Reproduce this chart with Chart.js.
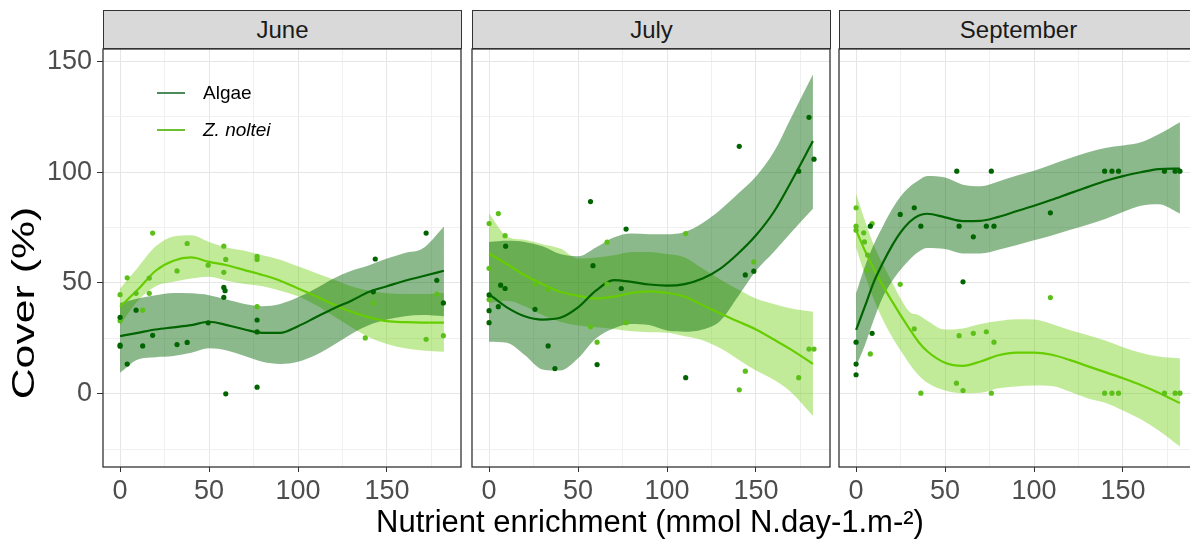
<!DOCTYPE html>
<html lang="en">
<head>
  <meta charset="UTF-8">
  <title>Cover vs nutrient enrichment</title>
  <script src="https://cdn.jsdelivr.net/npm/chart.js"></script>
  <style>
    body {
      margin: 0;
      background: #fff;
      font-family: "Liberation Sans", Arial, sans-serif;
    }

    #wrap {
      position: relative;
      width: 1190px;
      height: 541px;
      overflow: hidden;
    }

    canvas {
      position: absolute;
    }

    .strip {
      position: absolute;
      top: 10px;
      width: 359px;
      height: 39px;
      box-sizing: border-box;
      background: #d9d9d9;
      border: 1px solid #333;
      color: #1a1a1a;
      font-size: 24px;
      line-height: 37px;
      text-align: center;
    }

    #legend {
      position: absolute;
      left: 157px;
      top: 80px;
      font-size: 19px;
      color: #000;
    }

    .key {
      position: relative;
      height: 37px;
      line-height: 26px;
      padding-left: 46px;
    }

    .key span {
      position: absolute;
      left: 0;
      top: 12px;
      width: 28px;
      height: 2px;
    }

    #xtitle {
      position: absolute;
      left: 150px;
      width: 1000px;
      top: 503px;
      text-align: center;
      font-size: 31px;
      line-height: 38px;
      color: #000;
    }

    #ytitle {
      position: absolute;
      left: -126px;
      top: 284px;
      width: 300px;
      text-align: center;
      font-size: 31px;
      line-height: 38px;
      color: #000;
      transform: rotate(-90deg) scaleX(1.38);
    }
  </style>
</head>
<body>

<div id="wrap">
  <div class="strip" style="left:103px">June</div>
  <div class="strip" style="left:472px">July</div>
  <div class="strip" style="left:839px">September</div>

  <canvas id="june" width="462" height="468" style="left:0; top:44px"></canvas>
  <canvas id="july" width="364" height="468" style="left:467px; top:44px"></canvas>
  <canvas id="september" width="364" height="468" style="left:834px; top:44px"></canvas>

  <div id="legend">
    <div class="key"><span style="background:#4b8b5b"></span>Algae</div>
    <div class="key"><span style="background:#6cc22e"></span><i>Z. noltei</i></div>
  </div>

  <div id="xtitle">Nutrient enrichment (mmol N.day-1.m-²)</div>
  <div id="ytitle">Cover (%)</div>
</div>

<script>
  // ---- June ----
  const juneAlgaeX = [0, 0, 0, 4, 9, 12.7, 18.3, 32, 37.7, 49.5, 58.3, 59, 58.3, 59.4, 77, 77, 77, 143.4, 142.3, 172, 178, 181.7];
  const juneAlgaeY = [34.5, 22, 21.5, 13.4, 37.7, 21.6, 26.4, 22.2, 23.2, 32, 48, 46.5, 43.5, 0, 33.3, 27.9, 3, 60.8, 46, 72.5, 51.2, 41];
  const juneZosX = [0, 0, 4, 9, 12.7, 16.4, 16.4, 18.3, 32, 37.7, 49.5, 58.3, 59.4, 58.3, 77, 77, 77, 137.8, 142.3, 172, 178, 181.7];
  const juneZosY = [44.7, 33, 52.3, 45.3, 37.7, 52.2, 45.3, 72.5, 55.4, 67.8, 58, 66.6, 60.6, 54.8, 62, 60.6, 39.3, 25.2, 41, 24.6, 45, 26.2];

  const juneFitX = [0, 10, 20, 30, 40, 50, 60, 70, 80, 90, 100, 110, 120, 130, 140, 150, 160, 170, 182];
  const juneAlgaeFit = [26, 27.5, 29, 30, 31, 32.5, 31, 29, 27.5, 27.5, 30.5, 34.5, 38.5, 42, 46, 48.5, 51, 53, 55.5];
  const juneAlgaeLo = [9.5, 15.5, 16.5, 17, 18.5, 20.5, 19.5, 17, 14.5, 13.5, 14.5, 17.5, 22, 27, 31, 33.5, 35, 35.5, 35];
  const juneAlgaeHi = [41, 43, 44.5, 45.5, 45.3, 44.5, 42.5, 40.5, 39.5, 40.5, 43.5, 47.5, 52, 55.5, 58, 61, 63.5, 65.5, 75.5];
  const juneZosFit = [39.3, 47, 55.5, 60, 61.5, 59.5, 58, 55.8, 53.6, 51, 47.5, 44, 40.3, 37, 34.5, 32.8, 32.3, 32.1, 32.1];
  const juneZosLo = [31, 42, 48.5, 50.5, 52, 52.8, 51, 49.5, 48.5, 46.5, 44, 40, 35, 30, 25.5, 22.5, 20.5, 19.5, 19];
  const juneZosHi = [47.5, 57, 66.5, 71, 71.5, 68.5, 66, 64.5, 62.5, 60.5, 57.5, 54.5, 51.5, 48.5, 46.5, 45.3, 45, 45, 45.5];

  // ---- July ----
  const julyAlgaeX = [0, 0, 0, 5.2, 6.5, 9, 9.3, 25.8, 33.2, 37, 57, 58.4, 60.7, 74.3, 77, 110.5, 140.6, 144, 148.8, 174, 179.8, 182.6];
  const julyAlgaeY = [44.6, 37.5, 32.1, 39.3, 49, 47.5, 66.6, 38.1, 21.6, 11.4, 86.7, 57.8, 13.2, 47.5, 74.3, 7.3, 111.6, 53.6, 55.3, 100.4, 124.7, 105.8];
  const julyZosX = [0, 0, 0, 5.2, 9, 25.8, 33, 57, 60.7, 66.3, 66.3, 77, 110.5, 140.6, 144, 148.8, 174, 179.8, 182.6];
  const julyZosY = [76.8, 56.6, 42.5, 81.3, 71.3, 49.5, 47, 30.3, 23.3, 68.4, 49.5, 32.1, 72.3, 1.8, 10.2, 59.5, 7.3, 20.2, 20.2];

  const julyFitX = [0, 10, 20, 30, 40, 50, 60, 70, 80, 90, 100, 110, 120, 130, 140, 150, 160, 170, 182];
  const julyAlgaeFit = [45, 39, 35, 33.5, 34.3, 39, 46.5, 51.3, 50.5, 49.3, 48.8, 49.5, 52, 56.5, 63.3, 71.5, 82, 96, 114];
  const julyAlgaeLo = [23.5, 23, 17.5, 11, 10.5, 16, 25, 29.5, 31.5, 31, 28.5, 28, 29, 33, 44, 55.5, 64, 73, 83.5];
  const julyAlgaeHi = [68.5, 69, 68.5, 66.5, 63, 62, 66, 70.5, 72.3, 72, 72, 73, 77, 83, 90.3, 98, 109, 125, 144];
  const julyZosFit = [63.3, 58.5, 53.5, 49.5, 46, 44.2, 43, 43.8, 45.5, 46.2, 45.5, 43.8, 40, 36.2, 32.6, 29, 24.5, 19.8, 13.5];
  const julyZosLo = [41, 42, 39.5, 35.5, 32.5, 30.8, 30, 29.2, 28.2, 27.8, 27.5, 26, 24.2, 20.5, 15.5, 10.5, 6.3, 0.5, -10];
  const julyZosHi = [81.3, 71, 69.5, 67.5, 65.5, 61, 61.5, 62.5, 64, 64, 63, 61.5, 56.5, 51.5, 47, 43, 40.5, 38.5, 37];

  // ---- September ----
  const sepAlgaeX = [0, 0, 0, 8, 9, 24.8, 32.7, 36.4, 56.6, 57.9, 60.1, 65.9, 73.2, 76, 77.5, 109.2, 139.7, 143.8, 147.5, 173.3, 179.3, 182];
  const sepAlgaeY = [23.3, 13.4, 8.6, 75.6, 27.3, 80.9, 83.9, 75.6, 100.4, 75.6, 50.5, 70.8, 75.6, 100.4, 75.6, 81.6, 100.4, 100.4, 100.4, 100.4, 100.4, 100.4];
  const sepZosX = [0, 0, 0, 4.3, 4.7, 6.5, 6.2, 9, 8, 24.8, 32.7, 36.4, 56.4, 57.9, 60.1, 65.9, 73.2, 77.5, 76, 109.2, 139.7, 143.8, 147.5, 173.3, 179.3, 182];
  const sepZosY = [83.9, 75.6, 73.8, 72.6, 68.5, 62.6, 55.8, 76.8, 18, 49.4, 29.3, 0.3, 4.8, 26.2, 1.5, 27.3, 28, 23.3, 0.3, 43.4, 0.3, 0.3, 0.3, 0.3, 0.3, 0.3];

  const sepFitX = [0, 5, 10, 15, 20, 25, 30, 35, 40, 50, 60, 70, 80, 90, 100, 110, 120, 130, 140, 150, 160, 170, 182];
  const sepAlgaeFit = [28.8, 39.5, 50.5, 59, 66.5, 72.8, 77.5, 80.3, 81.2, 79.6, 77.9, 78, 79.8, 82.3, 84.8, 87.5, 90.4, 93.2, 96, 98.2, 99.9, 101.3, 101.6];
  const sepAlgaeLo = [12.3, 22, 33.5, 43.5, 50.5, 56, 60.5, 64, 65.8, 65.3, 63.3, 63.3, 65, 67, 69.2, 71.4, 73.9, 76.3, 78.8, 82, 84.8, 85.5, 81.3];
  const sepAlgaeHi = [45.3, 57.5, 67.5, 75.5, 83, 89, 93.3, 96.2, 98.2, 97.5, 94.3, 93.6, 95.8, 98.3, 100.6, 103.4, 106.2, 108.8, 110.9, 112, 113.4, 117, 122.5];
  const sepZosFit = [73.8, 64.5, 56.3, 48.8, 42, 35.5, 29.3, 23.5, 19.2, 14, 12.6, 14.6, 17.4, 18.6, 18.6, 17.6, 15.3, 12.5, 9.8, 7, 4, 0.5, -4.2];
  const sepZosLo = [66, 53.5, 42.5, 33.5, 26, 19.5, 13.5, 8.5, 5, 1.5, 0.3, 0.5, 2.5, 3.3, 3.8, 3.5, 1, -2, -4, -7.5, -11.5, -16.5, -23.7];
  const sepZosHi = [90.3, 78, 67, 58.5, 50.8, 43, 37, 35.5, 33, 29, 29.5, 31.5, 32.8, 33.6, 33.5, 31.5, 28.8, 26.5, 24, 21, 18.5, 16.8, 16];

  // axis ranges (kept off whole multiples of the step so ticks stay on 0, 25, 50 ...)
  const xRange = [-9.6, 191.6];
  const yRange = [-33, 155.5];

  const algaeCol = '#006400';
  const zosCol = '#66cd00';
  const algaeBand = 'rgba(0, 100, 0, 0.45)';
  const zosBand = 'rgba(102, 205, 0, 0.4)';
  const tickFont = { size: 27, family: '"Liberation Sans", Arial, sans-serif' };

  const pts = (xs, ys) => xs.map((x, i) => ({ x: x, y: ys[i] }));

  // dark frame around each facet
  const panelBorder = {
    id: 'panelBorder',
    afterDraw(chart) {
      const { ctx, chartArea: a } = chart;
      ctx.save();
      ctx.strokeStyle = '#333';
      ctx.lineWidth = 1.3;
      ctx.strokeRect(a.left, a.top, a.right - a.left, a.bottom - a.top);
      ctx.restore();
    }
  };

  function gridColor(ctx) {
    return ctx.tick && ctx.tick.value % 50 === 0 ? '#e6e6e6' : '#f0f0f0';
  }

  function tickColor(ctx) {
    return ctx.tick && ctx.tick.value % 50 === 0 ? '#333' : 'rgba(0,0,0,0)';
  }

  function noPad(s) {
    s.paddingTop = 0;
    s.paddingBottom = 0;
    s.paddingLeft = 0;
    s.paddingRight = 0;
  }

  function band(xs, lo, hi, color) {
    return [
      { data: pts(xs, lo), borderWidth: 0, pointRadius: 0, fill: false, order: 3 },
      { data: pts(xs, hi), borderWidth: 0, pointRadius: 0, fill: '-1', backgroundColor: color, order: 3 }
    ];
  }

  function drawPanel(id, fitX, aFit, aLo, aHi, zFit, zLo, zHi, aX, aY, zX, zY, showY) {
    const line = (ys, color) => ({
      data: pts(fitX, ys), borderColor: color, borderWidth: 2.2, pointRadius: 0, fill: false, order: 2
    });
    const dots = (xs, ys, color) => ({
      data: pts(xs, ys), showLine: false, pointRadius: 2.6, pointBorderWidth: 0,
      pointBackgroundColor: color, order: 1
    });

    new Chart(document.getElementById(id), {
      type: 'line',
      data: {
        datasets: [
          ...band(fitX, aLo, aHi, algaeBand),
          ...band(fitX, zLo, zHi, zosBand),
          line(aFit, algaeCol),
          line(zFit, zosCol),
          dots(aX, aY, algaeCol),
          dots(zX, zY, '#5cbf1a')
        ]
      },
      options: {
        responsive: false,
        animation: false,
        cubicInterpolationMode: 'monotone',
        layout: { autoPadding: false, padding: { top: 5, right: 1, left: showY ? 0 : 5, bottom: 0 } },
        plugins: { legend: { display: false }, tooltip: { enabled: false } },
        scales: {
          x: {
            type: 'linear',
            min: xRange[0],
            max: xRange[1],
            border: { display: false },
            grid: { color: gridColor, tickColor: tickColor, tickLength: 5, lineWidth: 1 },
            ticks: {
              stepSize: 25,
              includeBounds: false,
              autoSkip: false,
              maxRotation: 0,
              padding: 3,
              color: '#4d4d4d',
              font: tickFont,
              callback: v => (v % 50 === 0 ? v : '')
            },
            afterFit: s => { noPad(s); s.height = 45; }
          },
          y: {
            type: 'linear',
            min: yRange[0],
            max: yRange[1],
            border: { display: false },
            grid: { color: gridColor, tickColor: tickColor, tickLength: 6, drawTicks: showY, lineWidth: 1 },
            ticks: {
              display: showY,
              stepSize: 25,
              includeBounds: false,
              autoSkip: false,
              padding: 5,
              color: '#4d4d4d',
              font: tickFont,
              callback: v => (v % 50 === 0 ? v : '')
            },
            afterFit: s => { noPad(s); s.width = showY ? 103 : 0; }
          }
        }
      },
      plugins: [panelBorder]
    });
  }

  drawPanel('june', juneFitX, juneAlgaeFit, juneAlgaeLo, juneAlgaeHi, juneZosFit, juneZosLo, juneZosHi,
    juneAlgaeX, juneAlgaeY, juneZosX, juneZosY, true);
  drawPanel('july', julyFitX, julyAlgaeFit, julyAlgaeLo, julyAlgaeHi, julyZosFit, julyZosLo, julyZosHi,
    julyAlgaeX, julyAlgaeY, julyZosX, julyZosY, false);
  drawPanel('september', sepFitX, sepAlgaeFit, sepAlgaeLo, sepAlgaeHi, sepZosFit, sepZosLo, sepZosHi,
    sepAlgaeX, sepAlgaeY, sepZosX, sepZosY, false);
</script>

</body>
</html>
